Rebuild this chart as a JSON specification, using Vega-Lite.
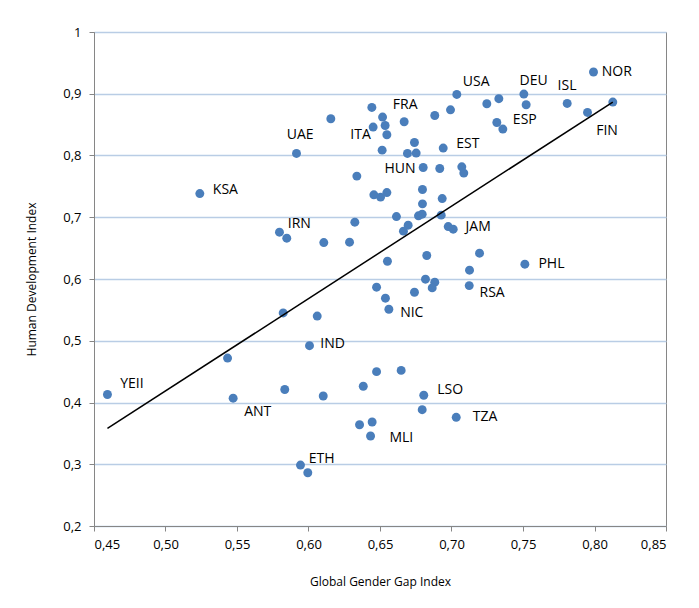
{
  "$schema": "https://vega.github.io/schema/vega-lite/v6.json",
  "width": 572,
  "height": 494,
  "autosize": {"type": "none"},
  "padding": {"left": 94, "top": 32, "right": 33, "bottom": 82},
  "background": "white",
  "config": {
    "view": {"stroke": "#868686", "strokeWidth": 1},
    "font": "Open Sans",
    "axis": {
      "domainColor": "#868686",
      "tickColor": "#868686",
      "tickSize": 5,
      "labelFont": "Open Sans",
      "labelFontSize": 13,
      "labelColor": "#000000",
      "titleFont": "Open Sans",
      "titleFontSize": 12,
      "titleFontWeight": "normal",
      "titleColor": "#000000"
    }
  },
  "datasets": {
    "points": [
      {"ggi": 0.4594, "hdi": 0.413}, {"ggi": 0.5434, "hdi": 0.472}, {"ggi": 0.5473, "hdi": 0.407},
      {"ggi": 0.5823, "hdi": 0.545}, {"ggi": 0.5834, "hdi": 0.421}, {"ggi": 0.6061, "hdi": 0.540},
      {"ggi": 0.6007, "hdi": 0.492}, {"ggi": 0.6103, "hdi": 0.4105}, {"ggi": 0.5944, "hdi": 0.2987},
      {"ggi": 0.5995, "hdi": 0.2862}, {"ggi": 0.6383, "hdi": 0.4263}, {"ggi": 0.6476, "hdi": 0.450},
      {"ggi": 0.6357, "hdi": 0.364}, {"ggi": 0.6445, "hdi": 0.3684}, {"ggi": 0.6434, "hdi": 0.3457},
      {"ggi": 0.6476, "hdi": 0.5867}, {"ggi": 0.6648, "hdi": 0.452}, {"ggi": 0.6806, "hdi": 0.4117},
      {"ggi": 0.6795, "hdi": 0.3884}, {"ggi": 0.7033, "hdi": 0.376}, {"ggi": 0.5916, "hdi": 0.8033},
      {"ggi": 0.524, "hdi": 0.7384}, {"ggi": 0.5797, "hdi": 0.6758}, {"ggi": 0.5848, "hdi": 0.6661},
      {"ggi": 0.6107, "hdi": 0.659}, {"ggi": 0.6156, "hdi": 0.8595}, {"ggi": 0.6443, "hdi": 0.8778},
      {"ggi": 0.6452, "hdi": 0.846}, {"ggi": 0.6338, "hdi": 0.7666}, {"ggi": 0.6457, "hdi": 0.7363},
      {"ggi": 0.6324, "hdi": 0.692}, {"ggi": 0.6287, "hdi": 0.6596}, {"ggi": 0.6518, "hdi": 0.8622},
      {"ggi": 0.6536, "hdi": 0.8486}, {"ggi": 0.6548, "hdi": 0.8336}, {"ggi": 0.6669, "hdi": 0.8546},
      {"ggi": 0.6515, "hdi": 0.8087}, {"ggi": 0.6741, "hdi": 0.821}, {"ggi": 0.6692, "hdi": 0.8033},
      {"ggi": 0.6753, "hdi": 0.8039}, {"ggi": 0.6883, "hdi": 0.8648}, {"ggi": 0.6993, "hdi": 0.874},
      {"ggi": 0.7037, "hdi": 0.8989}, {"ggi": 0.7247, "hdi": 0.8838}, {"ggi": 0.7331, "hdi": 0.892},
      {"ggi": 0.7317, "hdi": 0.8535}, {"ggi": 0.7359, "hdi": 0.8428}, {"ggi": 0.6942, "hdi": 0.812},
      {"ggi": 0.6802, "hdi": 0.7806}, {"ggi": 0.6918, "hdi": 0.779}, {"ggi": 0.7072, "hdi": 0.7817},
      {"ggi": 0.7086, "hdi": 0.7715}, {"ggi": 0.6797, "hdi": 0.7449}, {"ggi": 0.7506, "hdi": 0.8995},
      {"ggi": 0.7522, "hdi": 0.8822}, {"ggi": 0.7809, "hdi": 0.8843}, {"ggi": 0.7993, "hdi": 0.9352},
      {"ggi": 0.7951, "hdi": 0.8697}, {"ggi": 0.8128, "hdi": 0.8865}, {"ggi": 0.6504, "hdi": 0.7326},
      {"ggi": 0.6548, "hdi": 0.74}, {"ggi": 0.6935, "hdi": 0.7303}, {"ggi": 0.6797, "hdi": 0.7217},
      {"ggi": 0.6615, "hdi": 0.7011}, {"ggi": 0.6697, "hdi": 0.6872}, {"ggi": 0.6664, "hdi": 0.6775},
      {"ggi": 0.6769, "hdi": 0.7023}, {"ggi": 0.6795, "hdi": 0.705}, {"ggi": 0.6928, "hdi": 0.7034},
      {"ggi": 0.6977, "hdi": 0.6849}, {"ggi": 0.7012, "hdi": 0.6807}, {"ggi": 0.7196, "hdi": 0.6418},
      {"ggi": 0.6827, "hdi": 0.638}, {"ggi": 0.6552, "hdi": 0.6288}, {"ggi": 0.7126, "hdi": 0.6143},
      {"ggi": 0.6818, "hdi": 0.5997}, {"ggi": 0.6883, "hdi": 0.5948}, {"ggi": 0.6865, "hdi": 0.5856},
      {"ggi": 0.7124, "hdi": 0.5893}, {"ggi": 0.6741, "hdi": 0.5786}, {"ggi": 0.6538, "hdi": 0.5689},
      {"ggi": 0.6562, "hdi": 0.551}, {"ggi": 0.7513, "hdi": 0.624}
    ],
    "trend": [
      {"ggi": 0.4594, "hdi": 0.358},
      {"ggi": 0.8128, "hdi": 0.8865}
    ],
    "labels": [
      {"code": "NOR", "ggi": 0.8051, "hdi": 0.9357}, {"code": "ISL", "ggi": 0.7742, "hdi": 0.9133},
      {"code": "DEU", "ggi": 0.7476, "hdi": 0.9207}, {"code": "ESP", "ggi": 0.7429, "hdi": 0.857},
      {"code": "FIN", "ggi": 0.8012, "hdi": 0.8397}, {"code": "USA", "ggi": 0.7079, "hdi": 0.9191},
      {"code": "FRA", "ggi": 0.659, "hdi": 0.8814}, {"code": "ITA", "ggi": 0.6292, "hdi": 0.833},
      {"code": "UAE", "ggi": 0.5848, "hdi": 0.833}, {"code": "EST", "ggi": 0.7033, "hdi": 0.8186},
      {"code": "HUN", "ggi": 0.6531, "hdi": 0.7784}, {"code": "KSA", "ggi": 0.5331, "hdi": 0.7444},
      {"code": "IRN", "ggi": 0.5855, "hdi": 0.6898}, {"code": "JAM", "ggi": 0.7098, "hdi": 0.6841},
      {"code": "PHL", "ggi": 0.7608, "hdi": 0.6242}, {"code": "RSA", "ggi": 0.7196, "hdi": 0.577},
      {"code": "NIC", "ggi": 0.6641, "hdi": 0.5446}, {"code": "IND", "ggi": 0.6082, "hdi": 0.4948},
      {"code": "YEII", "ggi": 0.4683, "hdi": 0.4292}, {"code": "ANT", "ggi": 0.555, "hdi": 0.3851},
      {"code": "ETH", "ggi": 0.6002, "hdi": 0.3084}, {"code": "LSO", "ggi": 0.69, "hdi": 0.4207},
      {"code": "TZA", "ggi": 0.7149, "hdi": 0.3765}, {"code": "MLI", "ggi": 0.6566, "hdi": 0.3428}
    ]
  },
  "encoding": {
    "x": {
      "field": "ggi", "type": "quantitative",
      "scale": {"domain": [0.45, 0.85], "nice": false, "zero": false},
      "axis": {
        "title": "Global Gender Gap Index",
        "values": [0.45, 0.5, 0.55, 0.6, 0.65, 0.7, 0.75, 0.8, 0.85],
        "labelExpr": "replace(format(datum.value, '.2f'), '.', ',')",
        "grid": false,
        "labelPadding": 7,
        "titleX": 286, "titleY": 55, "titleAlign": "center", "titleBaseline": "middle"
      }
    },
    "y": {
      "field": "hdi", "type": "quantitative",
      "scale": {"domain": [0.2, 1], "nice": false, "zero": false},
      "axis": {
        "title": "Human Development Index",
        "values": [0.2, 0.3, 0.4, 0.5, 0.6, 0.7, 0.8, 0.9, 1],
        "labelExpr": "datum.value == 1 ? '1' : replace(format(datum.value, '.1f'), '.', ',')",
        "grid": true, "gridColor": "#b9cde5", "gridWidth": 1.5,
        "labelPadding": 8,
        "titleX": -63, "titleY": 247, "titleAngle": -90, "titleAlign": "center", "titleBaseline": "middle"
      }
    }
  },
  "layer": [
    {
      "data": {"name": "points"},
      "mark": {"type": "point", "filled": true, "size": 80, "color": "#4a7ebb", "opacity": 1}
    },
    {
      "data": {"name": "trend"},
      "mark": {"type": "line", "color": "#000000", "strokeWidth": 1.5}
    },
    {
      "data": {"name": "labels"},
      "mark": {"type": "text", "align": "left", "baseline": "middle", "font": "Open Sans", "fontSize": 14, "color": "#000000"},
      "encoding": {"text": {"field": "code"}}
    }
  ]
}
